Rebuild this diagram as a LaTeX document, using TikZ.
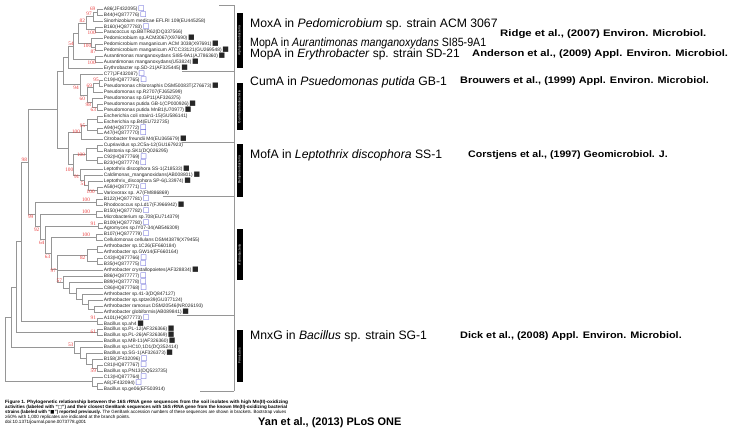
\documentclass[tikz,border=0pt]{standalone}
\usepackage{fontspec}
\setmainfont{Liberation Sans}
\newfontfamily\symfont{DejaVu Sans}
\newfontfamily\bsfont{Liberation Serif}
\usepackage{graphicx}
\definecolor{treegray}{RGB}{150,150,150}
\definecolor{bsred}{RGB}{235,60,60}
\definecolor{sqblue}{RGB}{80,80,210}
\newcommand\osq{\hspace{0.7bp}{\symfont\fontsize{7}{6}\selectfont\textcolor{sqblue}{□}}}
\newcommand\fsq{\hspace{0.7bp}{\symfont\fontsize{7}{6}\selectfont ■}}
\tikzset{
 leaf/.style={anchor=west, inner xsep=0.6bp, inner ysep=0pt, font=\fontsize{4.9}{5}\selectfont, text=black!85, text height=3.4bp, text depth=1bp},
 bs/.style={inner sep=0pt, font=\bsfont\fontsize{5.3}{5}\selectfont, text=bsred},
 brl/.style={draw=treegray, line width=0.6bp},
 sepl/.style={draw=treegray, line width=0.6bp},
 grp/.style={fill=black, text=white, inner sep=0pt, minimum height=6bp, rotate=90, font=\fontsize{3.3}{3.5}\selectfont},
 big/.style={anchor=base west, inner sep=0pt, font=\fontsize{12.25}{14}\selectfont},
 citetxt/.style={anchor=base west, inner sep=0pt, font=\bfseries\fontsize{9.5}{11}\selectfont},
 captxt/.style={anchor=base west, inner sep=0pt, font=\fontsize{4.6}{5}\selectfont},
}
\begin{document}
\begin{tikzpicture}[x=1bp,y=-1bp]
\useasboundingbox (0,0) rectangle (734,432);
\fill[white] (0,0) rectangle (734,432);
% leaves
\node[leaf] (L1) at (103,9) {A86(JF432095)\osq};
\node[leaf] (L2) at (103,14.94) {B44(HQ877776)\osq};
\node[leaf] (L3) at (103,20.88) {Sinorhizobium medicae EFLRI 109(EU445258)};
\node[leaf] (L4) at (103,26.82) {B160(HQ877783)\osq};
\node[leaf] (L5) at (103,32.76) {Paracoccus sp.BBTR62(DQ337566)};
\node[leaf] (L6) at (103,38.70) {Pedomicrobium sp.ACM3067(X97690)\fsq};
\node[leaf] (L7) at (103,44.64) {Pedomicrobium manganicum ACM 3038(X97691)\fsq};
\node[leaf] (L8) at (103,50.58) {Pedomicrobium manganicum ATCC33121(GU269548)\fsq};
\node[leaf] (L9) at (103,56.52) {Aurantimonas manganoxydans SI85-9A1(AJ786360)\fsq};
\node[leaf] (L10) at (103,62.46) {Aurantimonas manganoxydans(U53824)\fsq};
\node[leaf] (L11) at (103,68.40) {Erythrobacter sp.SD-21(AF325445)\fsq};
\node[leaf] (L12) at (103,74.34) {C77(JF432087)\osq};
\node[leaf] (L13) at (103,80.28) {C19(HQ877765)\osq};
\node[leaf] (L14) at (103,86.22) {Pseudomonas chlororaphis DSM50083T(Z76673)\fsq};
\node[leaf] (L15) at (103,92.16) {Pseudomonas sp.R2707(FJ652599)};
\node[leaf] (L16) at (103,98.10) {Pseudomonas sp.GP11(AF326375)};
\node[leaf] (L17) at (103,104.04) {Pseudomonas putida GB-1(CP000926)\fsq};
\node[leaf] (L18) at (103,109.98) {Pseudomonas putida MnB1(U70977)\fsq};
\node[leaf] (L19) at (103,115.92) {Escherichia coli strain1-15(GU586141)};
\node[leaf] (L20) at (103,121.86) {Escherichia sp.B4(EU722735)};
\node[leaf] (L21) at (103,127.80) {A94(HQ877772)\osq};
\node[leaf] (L22) at (103,133.74) {A47(HQ877770)\osq};
\node[leaf] (L23) at (103,139.68) {Citrobacter freundii M4(EU365679)\fsq};
\node[leaf] (L24) at (103,145.62) {Cupriavidus sp.2C5a-12(GU167923)};
\node[leaf] (L25) at (103,151.56) {Ralstonia sp.SK1(DQ026295)};
\node[leaf] (L26) at (103,157.50) {C92(HQ877769)\osq};
\node[leaf] (L27) at (103,163.44) {B23(HQ877774)\osq};
\node[leaf] (L28) at (103,169.38) {Leptothrix discophora SS-1(Z18533)\fsq};
\node[leaf] (L29) at (103,175.32) {Caldimonas\_manganoxidans(AB008801)\fsq};
\node[leaf] (L30) at (103,181.26) {Leptothrix\_discophora SP-6(L33974)\fsq};
\node[leaf] (L31) at (103,187.20) {A58(HQ877771)\osq};
\node[leaf] (L32) at (103,193.14) {Variovorax sp. A7(FM886869)};
\node[leaf] (L33) at (103,199.08) {B122(HQ877781)\osq};
\node[leaf] (L34) at (103,205.02) {Rhodococcus sp.Ld17(FJ966942)\fsq};
\node[leaf] (L35) at (103,210.96) {B150(HQ877782)\osq};
\node[leaf] (L36) at (103,216.90) {Microbacterium sp.708(EU714379)};
\node[leaf] (L37) at (103,222.84) {B109(HQ877780)\osq};
\node[leaf] (L38) at (103,228.78) {Agromyces sp.IY07-34(AB546309)};
\node[leaf] (L39) at (103,234.72) {B107(HQ877779)\osq};
\node[leaf] (L40) at (103,240.66) {Cellulomonas cellulans DSM43879(X79455)};
\node[leaf] (L41) at (103,246.60) {Arthrobacter sp.1C26(EF660184)};
\node[leaf] (L42) at (103,252.54) {Arthrobacter sp.GW14(EF660164)};
\node[leaf] (L43) at (103,258.48) {C43(HQ877766)\osq};
\node[leaf] (L44) at (103,264.42) {B35(HQ877775)\osq};
\node[leaf] (L45) at (103,270.36) {Arthrobacter crystallopoietes(AF328834)\fsq};
\node[leaf] (L46) at (103,276.30) {B86(HQ877777)\osq};
\node[leaf] (L47) at (103,282.24) {B89(HQ877778)\osq};
\node[leaf] (L48) at (103,288.18) {C86(HQ877768)\osq};
\node[leaf] (L49) at (103,294.12) {Arthrobacter sp.41-3(DQ847127)};
\node[leaf] (L50) at (103,300.06) {Arthrobacter sp.sptze39(GU377124)};
\node[leaf] (L51) at (103,306.00) {Arthrobacter ramosus DSM20546(NR026193)};
\node[leaf] (L52) at (103,311.94) {Arthrobacter globiformis(AB089841)\fsq};
\node[leaf] (L53) at (103,317.88) {A101(HQ877773)\osq};
\node[leaf] (L54) at (103,323.82) {Bacillus sp.ah4\fsq};
\node[leaf] (L55) at (103,329.76) {Bacillus sp.PL-12(AF326366)\fsq};
\node[leaf] (L56) at (103,335.70) {Bacillus sp.PL-26(AF326369)\fsq};
\node[leaf] (L57) at (103,341.64) {Bacillus sp.MB-11(AF326360)\fsq};
\node[leaf] (L58) at (103,347.58) {Bacillus sp.HC10,1D1(DQ352414)};
\node[leaf] (L59) at (103,353.52) {Bacillus sp.SG-1(AF326373)\fsq};
\node[leaf] (L60) at (103,359.46) {B158(JF432096)\osq};
\node[leaf] (L61) at (103,365.40) {C81(HQ877767)\osq};
\node[leaf] (L62) at (103,371.34) {Bacillus sp.PN13(DQ523735)};
\node[leaf] (L63) at (103,377.28) {C13(HQ877764)\osq};
\node[leaf] (L64) at (103,383.22) {A8(JF432094)\osq};
\node[leaf] (L65) at (103,389.16) {Bacillus sp.ge06(EF503914)};
% internal nodes
\coordinate (a1) at (97,11.97);
\coordinate (a2) at (93,16.43);
\coordinate (a3) at (95,29.79);
\coordinate (a4) at (86,23.11);
\coordinate (a5) at (95,47.61);
\coordinate (a6) at (91,43.16);
\coordinate (a7) at (78,33.13);
\coordinate (a8) at (95,59.49);
\coordinate (a9) at (73,46.31);
\coordinate (a10) at (68.3,57.36);
\coordinate (g1) at (99.5,83.25);
\coordinate (g2) at (93,87.71);
\coordinate (g3) at (97,107.01);
\coordinate (g4) at (92,102.56);
\coordinate (g5) at (87,95.13);
\coordinate (g6) at (80,84.74);
\coordinate (ag) at (63.3,71.05);
\coordinate (g7) at (97,118.89);
\coordinate (g8) at (97,130.77);
\coordinate (g9) at (87,124.83);
\coordinate (g10) at (81,132.26);
\coordinate (b1) at (97,148.59);
\coordinate (b2) at (97,160.47);
\coordinate (b3) at (86,154.53);
\coordinate (b4) at (97,190.17);
\coordinate (b5) at (88,185.72);
\coordinate (b6) at (84,180.52);
\coordinate (b7) at (80.5,174.95);
\coordinate (b8) at (73,164.74);
\coordinate (gb) at (68.3,148.50);
\coordinate (P) at (57.3,109.77);
\coordinate (r1) at (96,202.05);
\coordinate (r2) at (96,213.93);
\coordinate (r3) at (98,225.81);
\coordinate (r4) at (96,237.69);
\coordinate (r5) at (97,249.57);
\coordinate (r6) at (97,261.45);
\coordinate (r7) at (87,255.51);
\coordinate (t1) at (94,308.97);
\coordinate (t2) at (88,304.52);
\coordinate (t3) at (82,299.32);
\coordinate (t4) at (76,293.75);
\coordinate (t5) at (69.5,288.00);
\coordinate (n57) at (63.3,282.15);
\coordinate (n97) at (57.3,268.83);
\coordinate (n63) at (51.7,253.26);
\coordinate (n64) at (45.7,239.54);
\coordinate (n92) at (40,226.73);
\coordinate (n99) at (35,214.39);
\coordinate (n98) at (28.3,162.08);
\coordinate (h1) at (97,320.85);
\coordinate (na) at (21.7,241.47);
\coordinate (pl) at (97,332.73);
\coordinate (nb) at (16.7,287.10);
\coordinate (s1) at (97,368.37);
\coordinate (s2) at (92,363.92);
\coordinate (s3) at (86,358.72);
\coordinate (s4) at (80,353.15);
\coordinate (s5) at (74,347.40);
\coordinate (nc) at (11.7,317.25);
\coordinate (c1) at (97,386.19);
\coordinate (c2) at (92,381.74);
\coordinate (root) at (5,349.49);
% branches
\foreach \p/\c in {a1/L1.west,a1/L2.west,a2/a1,a2/L3.west,a3/L4.west,a3/L5.west,a4/a2,a4/a3,
  a5/L7.west,a5/L8.west,a6/L6.west,a6/a5,a7/a4,a7/a6,a8/L9.west,a8/L10.west,a9/a7,a9/a8,
  a10/a9,a10/L11.west,g1/L13.west,g1/L14.west,g2/g1,g2/L15.west,g3/L17.west,g3/L18.west,
  g4/L16.west,g4/g3,g5/g2,g5/g4,g6/L12.west,g6/g5,ag/a10,ag/g6,g7/L19.west,g7/L20.west,
  g8/L21.west,g8/L22.west,g9/g7,g9/g8,g10/g9,g10/L23.west,b1/L24.west,b1/L25.west,
  b2/L26.west,b2/L27.west,b3/b1,b3/b2,b4/L31.west,b4/L32.west,b5/L30.west,b5/b4,
  b6/L29.west,b6/b5,b7/L28.west,b7/b6,b8/b3,b8/b7,gb/g10,gb/b8,P/ag,P/gb,
  r1/L33.west,r1/L34.west,r2/L35.west,r2/L36.west,r3/L37.west,r3/L38.west,
  r4/L39.west,r4/L40.west,r5/L41.west,r5/L42.west,r6/L43.west,r6/L44.west,r7/r5,r7/r6,
  t1/L51.west,t1/L52.west,t2/L50.west,t2/t1,t3/L49.west,t3/t2,t4/L48.west,t4/t3,
  t5/L47.west,t5/t4,n57/L46.west,n57/t5,n97/r7,n97/L45.west,n97/n57,n63/r4,n63/n97,
  n64/r3,n64/n63,n92/r2,n92/n64,n99/r1,n99/n92,n98/P,n98/n99,h1/L53.west,h1/L54.west,
  na/n98,na/h1,pl/L55.west,pl/L56.west,nb/na,nb/pl,s1/L61.west,s1/L62.west,
  s2/L60.west,s2/s1,s3/L59.west,s3/s2,s4/L58.west,s4/s3,s5/L57.west,s5/s4,nc/nb,nc/s5,
  c1/L64.west,c1/L65.west,c2/L63.west,c2/c1,root/nc,root/c2}
  \draw[brl] (\p) |- (\c);
% bootstrap values
\foreach \n/\x/\y/\v in {1/92.7/8.3/69,2/89/14/97,3/82.3/20.7/82,4/91.7/32.3/100,5/87.3/45.7/100,
  6/93.3/51.7/87,7/71/43.3/54,8/91.7/62.7/100,9/96/80/95,10/89.3/85.7/69,11/76/87.7/94,
  12/82.3/98.3/60,13/88.3/105/98,14/93.3/109.3/63,15/82.5/126/95,16/76/131.7/100,
  17/81/155/100,18/69.3/169.5/100,19/76.7/176.7/91,20/83.3/183.3/51,21/90.7/191.7/100,
  22/24.3/160/98,23/30.7/216.7/99,24/36.7/230/92,25/41.7/242.7/64,26/47.5/257/63,
  27/53.3/270.5/97,28/59.3/281/57,29/86/199.3/100,30/86/211.7/100,31/93.3/223.3/91,
  32/86/235/100,33/82.7/257.5/82,34/93.3/317.7/91,35/93.3/331.7/61,36/70.7/345/53,37/93.3/371/59}
  \node[bs] (bs\n) at (\x,\y) {\v};
% right frame lines
\draw[sepl] (234,5) -- (234,391);
\draw[sepl] (219,5) -- (234,5);
\draw[sepl] (182,71.4) -- (234,71.4);
\draw[sepl] (182,142.5) -- (234,142.5);
\draw[sepl] (163,196.1) -- (234,196.1);
\draw[sepl] (177,315) -- (234,315);
\draw[sepl] (200,391) -- (234,391);
% group boxes
\node[grp, minimum width=55bp] (gA) at (239.5,40.8) {Alphaproteobacteria};
\node[grp, minimum width=47bp] (gG) at (239.5,106.7) {Gammaproteobacteria};
\node[grp, minimum width=53bp] (gB) at (239.5,170) {Betaproteobacteria};
\node[grp, minimum width=51bp] (gAc) at (239.5,254.7) {Actinobacteria};
\node[grp, minimum width=52bp] (gF) at (239.5,355.9) {Firmicutes};
% annotations
\node[big] (ann1) at (250,27.3) {MoxA in \textit{Pedomicrobium} sp. strain ACM 3067};
\node[citetxt] (cit1) at (500,36.5) {\scalebox{1.2}[1]{Ridge et al., (2007) Environ. Microbiol.}};
\node[big, font=\fontsize{12}{14}\selectfont] (ann2) at (250,46.6) {\resizebox{236bp}{\height}{MopA in \textit{Aurantimonas manganoxydans} SI85-9A1}};
\node[big, font=\fontsize{12}{14}\selectfont] (ann3) at (250,57.6) {MopA in \textit{Erythrobacter} sp. strain SD-21};
\node[citetxt] (cit2) at (472,56.8) {\scalebox{1.18}[1]{Anderson et al., (2009) Appl. Environ. Microbiol.}};
\node[big] (ann4) at (250,85) {CumA in \textit{Psuedomonas putida} GB-1};
\node[citetxt] (cit3) at (460,83.8) {\scalebox{1.15}[1]{Brouwers et al., (1999) Appl. Environ. Microbiol.}};
\node[big] (ann5) at (250,158.3) {MofA in \textit{Leptothrix discophora} SS-1};
\node[citetxt] (cit4) at (468,157.5) {\scalebox{1.12}[1]{Corstjens et al., (1997) Geomicrobiol. J.}};
\node[big] (ann6) at (250,339.3) {MnxG in \textit{Bacillus} sp. strain SG-1};
\node[citetxt] (cit5) at (460,338.8) {\scalebox{1.15}[1]{Dick et al., (2008) Appl. Environ. Microbiol.}};
\node[anchor=base west, inner sep=0pt, font=\bfseries\fontsize{11}{13}\selectfont] (yan) at (258,425.6) {Yan et al., (2013) PLoS ONE};
% caption
\node[captxt] (cap1) at (5,403.2) {\resizebox{283bp}{\height}{\bfseries Figure 1. Phylogenetic relationship between the 16S rRNA gene sequences from the soil isolates with high Mn(II)-oxidizing}};
\node[captxt] (cap2) at (5,408.5) {\resizebox{282bp}{\height}{\bfseries activities (labeled with “{\symfont □}”) and their closest GenBank sequences with 16S rRNA gene from the known Mn(II)-oxidizing bacterial}};
\node[captxt] (cap3) at (5,413.8) {\resizebox{281bp}{\height}{\textbf{strains (labeled with “{\symfont ■}”) reported previously.} The GenBank accession numbers of these sequences are shown in brackets. Bootstrap values}};
\node[captxt] (cap4) at (5,418.8) {≥50\% with 1,000 replicates are indicated at the branch points.};
\node[captxt] (cap5) at (5,423.8) {doi:10.1371/journal.pone.0073778.g001};
\end{tikzpicture}
\end{document}
